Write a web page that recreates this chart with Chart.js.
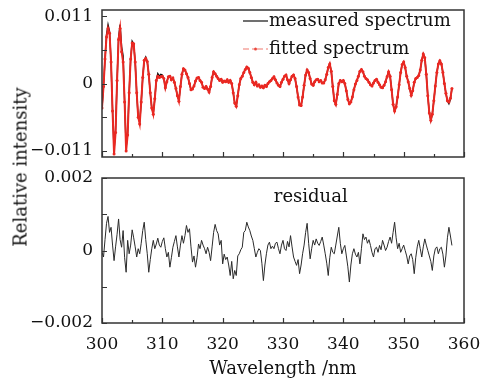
<!DOCTYPE html>
<html>
<head>
<meta charset="utf-8">
<title>Measured vs fitted spectrum</title>
<script src="https://cdn.jsdelivr.net/npm/chart.js@4.4.0/dist/chart.umd.min.js"></script>
<style>
    html, body { margin: 0; padding: 0; background: #fff; }
    #wrap { position: relative; width: 495px; height: 383px; font-family: 'DejaVu Serif', serif; }
    #wrap canvas { position: absolute; left: 0; top: 0; }
    #ytitle {
        position: absolute; left: 20px; top: 167px;
        transform: translate(-50%, -50%) rotate(-90deg);
        white-space: nowrap; font-size: 18px; color: #111;
    }
</style>
</head>
<body>
<div id="wrap">
    <canvas id="spectrumChart" width="495" height="383"></canvas>
    <canvas id="residualChart" width="495" height="383"></canvas>
    <div id="ytitle">Relative intensity</div>
</div>
<script>
// sampling grid: 300 nm to 358 nm, every 0.25 nm
const startNm = 300;
const stepNm = 0.25;

const measured = [
    -0.0040, -0.0005, 0.0040, 0.0080, 0.0096, 0.0085, 0.0035, -0.0045, -0.0108, -0.0075,
    0.0005, 0.0075, 0.0096, 0.0060, 0.0045, -0.0030, -0.0104, -0.0080, -0.0015, 0.0040,
    0.0069, 0.0065, 0.0035, -0.0015, -0.0055, -0.0063, -0.0030, 0.0010, 0.0038, 0.0043,
    0.0036, 0.0015, -0.0015, -0.0040, -0.0048, -0.0025, 0.0005, 0.0016, 0.0012, 0.0015,
    0.0014, 0.0008, -0.0007, 0.0003, 0.0011, 0.0012, 0.0006, 0.0009, 0.0002, -0.0008,
    -0.0020, -0.0027, -0.0005, 0.0015, 0.0024, 0.0022, 0.0016, 0.0010, 0.0000, -0.0010,
    -0.0009, -0.0004, 0.0004, 0.0009, 0.0010, 0.0005, 0.0002, -0.0006, -0.0008, -0.0005,
    -0.0009, -0.0014, -0.0005, 0.0010, 0.0019, 0.0016, 0.0012, 0.0008, 0.0005, 0.0007,
    0.0002, 0.0004, 0.0003, 0.0006, 0.0002, 0.0005, 0.0000, -0.0015, -0.0032, -0.0037,
    -0.0020, -0.0002, 0.0008, 0.0012, 0.0018, 0.0023, 0.0027, 0.0025, 0.0018, 0.0010,
    0.0002, -0.0002, 0.0002, -0.0004, -0.0002, -0.0006, -0.0004, -0.0007, -0.0003, -0.0005,
    0.0000, 0.0003, 0.0005, 0.0008, 0.0011, 0.0006, 0.0001, -0.0003, -0.0005, 0.0002,
    0.0007, 0.0012, 0.0014, 0.0006, 0.0000, 0.0006, 0.0012, 0.0014, 0.0008, -0.0005,
    -0.0022, -0.0035, -0.0036, -0.0022, -0.0003, 0.0014, 0.0022, 0.0018, 0.0008, -0.0001,
    -0.0003, 0.0003, 0.0006, 0.0007, 0.0003, 0.0005, 0.0001, 0.0001, 0.0006, 0.0015,
    0.0026, 0.0032, 0.0020, -0.0005, -0.0028, -0.0034, -0.0018, 0.0000, 0.0005, 0.0003,
    0.0005, 0.0000, -0.0012, -0.0026, -0.0033, -0.0030, -0.0022, -0.0010, -0.0001, 0.0005,
    0.0012, 0.0020, 0.0023, 0.0019, 0.0012, 0.0008, 0.0006, 0.0002, -0.0002, -0.0004,
    0.0001, 0.0005, 0.0007, 0.0002, -0.0002, -0.0006, -0.0007, -0.0003, 0.0003, 0.0011,
    0.0019, 0.0012, -0.0010, -0.0034, -0.0045, -0.0038, -0.0022, -0.0002, 0.0018, 0.0031,
    0.0035, 0.0026, 0.0012, 0.0003, -0.0008, -0.0019, -0.0012, 0.0002, 0.0008, 0.0010,
    0.0013, 0.0022, 0.0038, 0.0048, 0.0042, 0.0015, -0.0020, -0.0048, -0.0060, -0.0050,
    -0.0028, -0.0004, 0.0018, 0.0032, 0.0037, 0.0032, 0.0018, 0.0000, -0.0016, -0.0028,
    -0.0033, -0.0026, -0.0008
];

const fitted = [
    -0.0040, -0.0005, 0.0040, 0.0076, 0.0090, 0.0082, 0.0035, -0.0045, -0.0115, -0.0080,
    0.0005, 0.0072, 0.0090, 0.0052, 0.0035, -0.0030, -0.0110, -0.0084, -0.0015, 0.0040,
    0.0066, 0.0065, 0.0035, -0.0015, -0.0055, -0.0066, -0.0030, 0.0010, 0.0038, 0.0041,
    0.0036, 0.0015, -0.0015, -0.0040, -0.0050, -0.0025, 0.0005, 0.0012, 0.0010, 0.0011,
    0.0012, 0.0008, -0.0007, 0.0003, 0.0011, 0.0012, 0.0006, 0.0009, 0.0002, -0.0008,
    -0.0020, -0.0029, -0.0005, 0.0015, 0.0024, 0.0022, 0.0016, 0.0010, 0.0000, -0.0010,
    -0.0009, -0.0004, 0.0004, 0.0009, 0.0010, 0.0005, 0.0002, -0.0006, -0.0008, -0.0005,
    -0.0009, -0.0014, -0.0005, 0.0010, 0.0019, 0.0016, 0.0012, 0.0008, 0.0005, 0.0007,
    0.0002, 0.0004, 0.0003, 0.0006, 0.0002, 0.0005, 0.0000, -0.0015, -0.0032, -0.0037,
    -0.0020, -0.0002, 0.0008, 0.0012, 0.0018, 0.0023, 0.0027, 0.0025, 0.0018, 0.0010,
    0.0002, -0.0002, 0.0002, -0.0004, -0.0002, -0.0006, -0.0004, -0.0007, -0.0003, -0.0005,
    0.0000, 0.0003, 0.0005, 0.0008, 0.0011, 0.0006, 0.0001, -0.0003, -0.0005, 0.0002,
    0.0007, 0.0012, 0.0014, 0.0006, 0.0000, 0.0006, 0.0012, 0.0014, 0.0008, -0.0005,
    -0.0022, -0.0035, -0.0036, -0.0022, -0.0003, 0.0014, 0.0022, 0.0018, 0.0008, -0.0001,
    -0.0003, 0.0003, 0.0006, 0.0007, 0.0003, 0.0005, 0.0001, 0.0001, 0.0006, 0.0015,
    0.0026, 0.0032, 0.0020, -0.0005, -0.0028, -0.0034, -0.0018, 0.0000, 0.0005, 0.0003,
    0.0005, 0.0000, -0.0012, -0.0026, -0.0033, -0.0030, -0.0022, -0.0010, -0.0001, 0.0005,
    0.0012, 0.0020, 0.0023, 0.0019, 0.0012, 0.0008, 0.0006, 0.0002, -0.0002, -0.0004,
    0.0001, 0.0005, 0.0007, 0.0002, -0.0002, -0.0006, -0.0007, -0.0003, 0.0003, 0.0011,
    0.0019, 0.0012, -0.0010, -0.0034, -0.0045, -0.0038, -0.0022, -0.0002, 0.0018, 0.0031,
    0.0035, 0.0026, 0.0012, 0.0003, -0.0008, -0.0019, -0.0012, 0.0002, 0.0008, 0.0010,
    0.0013, 0.0022, 0.0038, 0.0048, 0.0042, 0.0015, -0.0020, -0.0048, -0.0060, -0.0050,
    -0.0028, -0.0004, 0.0018, 0.0032, 0.0037, 0.0032, 0.0018, 0.0000, -0.0016, -0.0028,
    -0.0030, -0.0024, -0.0008
];

const residual = [
    -0.00005, -0.00018, 0.00030, 0.00075, 0.00094, 0.00050, 0.00064, 0.00015, -0.00028, 0.00010,
    0.00045, 0.00087, 0.00030, 0.00009, 0.00055, -0.00020, -0.00060, 0.00028, -0.00009, 0.00015,
    0.00057, 0.00035, 0.00010, -0.00018, 0.00005, -0.00009, 0.00020, 0.00055, 0.00078, 0.00030,
    -0.00009, -0.00060, -0.00025, 0.00005, 0.00028, 0.00005, 0.00018, 0.00034, 0.00015, 0.00009,
    0.00025, 0.00035, 0.00005, -0.00018, -0.00005, -0.00046, -0.00020, 0.00009, 0.00025, 0.00041,
    0.00010, -0.00018, 0.00015, 0.00041, 0.00020, 0.00041, 0.00069, 0.00050, 0.00060, 0.00010,
    -0.00032, -0.00015, -0.00046, -0.00020, 0.00018, 0.00005, 0.00028, 0.00015, 0.00005, -0.00009,
    0.00009, -0.00005, -0.00028, 0.00010, 0.00050, 0.00072, 0.00055, 0.00046, 0.00015, 0.00028,
    -0.00037, -0.00010, -0.00025, -0.00018, -0.00040, -0.00069, -0.00030, -0.00078, -0.00055, -0.00069,
    -0.00015, -0.00009, 0.00002, 0.00009, 0.00050, 0.00055, 0.00078, 0.00065, 0.00055, 0.00040,
    0.00028, 0.00005, -0.00018, -0.00005, 0.00005, 0.00000, -0.00035, -0.00083, -0.00040, -0.00009,
    0.00015, 0.00023, 0.00005, 0.00012, 0.00005, 0.00020, 0.00023, 0.00005, -0.00009, 0.00015,
    0.00028, 0.00005, 0.00000, 0.00025, 0.00010, 0.00041, 0.00010, -0.00018, -0.00030, -0.00041,
    -0.00025, -0.00064, -0.00040, -0.00009, 0.00015, 0.00050, 0.00075, 0.00020, -0.00023, 0.00005,
    0.00028, 0.00015, 0.00032, 0.00020, 0.00014, 0.00025, 0.00037, 0.00015, -0.00009, -0.00035,
    -0.00069, -0.00020, 0.00009, -0.00005, -0.00009, 0.00015, 0.00040, 0.00064, 0.00020, -0.00009,
    0.00005, 0.00014, -0.00015, -0.00045, -0.00087, -0.00040, -0.00009, 0.00005, -0.00010, -0.00018,
    -0.00005, -0.00037, 0.00005, 0.00046, 0.00030, 0.00037, 0.00020, 0.00030, 0.00014, -0.00005,
    -0.00018, 0.00005, 0.00009, -0.00005, 0.00014, 0.00002, 0.00028, 0.00015, 0.00000, 0.00009,
    0.00025, 0.00037, 0.00020, 0.00050, 0.00078, 0.00035, 0.00005, 0.00020, -0.00005, 0.00005,
    0.00015, 0.00000, -0.00015, -0.00037, -0.00015, -0.00009, -0.00025, -0.00064, -0.00020, 0.00010,
    0.00028, 0.00005, -0.00018, 0.00010, 0.00032, 0.00015, 0.00000, -0.00015, -0.00030, -0.00055,
    -0.00015, 0.00005, 0.00010, -0.00009, 0.00005, 0.00009, -0.00010, -0.00046, -0.00015, 0.00035,
    0.00064, 0.00040, 0.00014
];

const xMajorTicks = [300, 310, 320, 330, 340, 350, 360];
const xMinorTicks = [305, 315, 325, 335, 345, 355];
const topTicks = [-0.011, -0.0055, 0, 0.0055, 0.011];
const topTickLabels = ['\u22120.011', '', '0', '', '0.011'];
const bottomTicks = [-0.002, -0.001, 0, 0.001, 0.002];
const bottomTickLabels = ['\u22120.002', '', '0', '', '0.002'];

const wavelength = measured.map((v, i) => startNm + i * stepNm);
const toPoints = (vals) => vals.map((v, i) => ({ x: wavelength[i], y: v }));

const FONT = "'DejaVu Serif', serif";
const INK = '#111';
const RED = 'rgb(234, 40, 34)';

// box around the plot area plus inward tick marks
const framePlugin = {
    id: 'frame',
    afterDatasetsDraw(chart, args, opts) {
        const ctx = chart.ctx;
        const a = chart.chartArea;
        const xs = chart.scales.x;
        const ys = chart.scales.y;
        ctx.save();
        ctx.strokeStyle = '#333';
        ctx.lineWidth = 1.5;
        ctx.strokeRect(a.left, a.top, a.right - a.left, a.bottom - a.top);
        ctx.lineWidth = 1.2;
        ctx.beginPath();
        for (const v of xMajorTicks) {
            const px = Math.round(xs.getPixelForValue(v)) + 0.5;
            ctx.moveTo(px, a.bottom);
            ctx.lineTo(px, a.bottom - 5);
        }
        for (const v of xMinorTicks) {
            const px = Math.round(xs.getPixelForValue(v)) + 0.5;
            ctx.moveTo(px, a.bottom);
            ctx.lineTo(px, a.bottom - 3);
        }
        for (const v of opts.yTicks) {
            const py = Math.round(ys.getPixelForValue(v)) + 0.5;
            ctx.moveTo(a.left, py);
            ctx.lineTo(a.left + 5, py);
        }
        ctx.stroke();
        ctx.restore();
    },
};

const legendPlugin = {
    id: 'spectrumLegend',
    afterDraw(chart) {
        const ctx = chart.ctx;
        const a = chart.chartArea;
        const x0 = a.right - 221;
        const x1 = a.right - 196;
        ctx.save();
        ctx.font = '18px ' + FONT;
        ctx.fillStyle = INK;
        ctx.textBaseline = 'middle';

        ctx.strokeStyle = INK;
        ctx.lineWidth = 1.2;
        ctx.beginPath();
        ctx.moveTo(x0, a.top + 11);
        ctx.lineTo(x1, a.top + 11);
        ctx.stroke();
        ctx.fillText('measured spectrum', x1 + 1, a.top + 11);

        ctx.strokeStyle = 'rgb(240, 120, 110)';
        ctx.setLineDash([6, 3, 2, 3]);
        ctx.beginPath();
        ctx.moveTo(x0, a.top + 39);
        ctx.lineTo(x1, a.top + 39);
        ctx.stroke();
        ctx.setLineDash([]);
        ctx.fillStyle = 'rgb(235, 70, 60)';
        ctx.beginPath();
        ctx.arc((x0 + x1) / 2, a.top + 39, 1.5, 0, Math.PI * 2);
        ctx.fill();
        ctx.fillStyle = INK;
        ctx.fillText('fitted spectrum', x1 + 1, a.top + 39);
        ctx.restore();
    },
};

const residualLabel = {
    id: 'residualLabel',
    afterDraw(chart) {
        const ctx = chart.ctx;
        const a = chart.chartArea;
        ctx.save();
        ctx.font = '18px ' + FONT;
        ctx.fillStyle = INK;
        ctx.textAlign = 'center';
        ctx.textBaseline = 'middle';
        ctx.fillText('residual', chart.scales.x.getPixelForValue(334.6), a.top + 19);
        ctx.restore();
    },
};

const yAxis = (min, max, ticks, labels) => ({
    type: 'linear',
    min: min,
    max: max,
    grid: { display: false, drawTicks: false },
    border: { display: false },
    afterBuildTicks: (s) => { s.ticks = ticks.map((v) => ({ value: v })); },
    afterFit: (s) => { s.width = 102; s.paddingTop = 0; s.paddingBottom = 0; },
    ticks: {
        padding: 9,
        autoSkip: false,
        color: INK,
        font: { family: FONT, size: 17 },
        callback: (value, index) => labels[index],
    },
});

const spectrumChart = new Chart(document.getElementById('spectrumChart'), {
    type: 'line',
    data: {
        datasets: [
            {
                label: 'fitted spectrum',
                data: toPoints(fitted),
                borderColor: RED,
                backgroundColor: RED,
                borderWidth: 2,
                pointRadius: 1.5,
                pointBorderWidth: 0,
                pointBackgroundColor: RED,
                tension: 0,
            },
            {
                label: 'measured spectrum',
                data: toPoints(measured),
                borderColor: INK,
                borderWidth: 1.4,
                pointRadius: 0,
                tension: 0,
            },
        ],
    },
    options: {
        responsive: false,
        animation: false,
        events: [],
        layout: { padding: { top: 10, right: 31, bottom: 0, left: 0 } },
        plugins: { legend: { display: false }, tooltip: { enabled: false }, frame: { yTicks: topTicks } },
        scales: {
            x: {
                type: 'linear',
                min: 300,
                max: 360,
                grid: { display: false },
                border: { display: false },
                ticks: { display: false },
                afterFit: (s) => { s.height = 226; s.paddingLeft = 0; s.paddingRight = 0; },
            },
            y: yAxis(-0.012, 0.012, topTicks, topTickLabels),
        },
    },
    plugins: [framePlugin, legendPlugin],
});

const residualChart = new Chart(document.getElementById('residualChart'), {
    type: 'line',
    data: {
        datasets: [
            {
                label: 'residual',
                data: toPoints(residual),
                borderColor: '#2a2a2a',
                borderWidth: 1,
                pointRadius: 0,
                tension: 0,
            },
        ],
    },
    options: {
        responsive: false,
        animation: false,
        events: [],
        layout: { padding: { top: 178, right: 31, bottom: 0, left: 0 } },
        plugins: { legend: { display: false }, tooltip: { enabled: false }, frame: { yTicks: bottomTicks } },
        scales: {
            x: {
                type: 'linear',
                min: 300,
                max: 360,
                grid: { display: false, drawTicks: false },
                border: { display: false },
                afterBuildTicks: (s) => { s.ticks = xMajorTicks.map((v) => ({ value: v })); },
                afterFit: (s) => { s.height = 60; s.paddingLeft = 0; s.paddingRight = 0; },
                ticks: {
                    padding: 11,
                    autoSkip: false,
                    maxRotation: 0,
                    color: INK,
                    font: { family: FONT, size: 17 },
                    callback: (value) => String(value),
                },
                title: {
                    display: true,
                    text: 'Wavelength /nm',
                    color: INK,
                    font: { family: FONT, size: 18 },
                    padding: { top: 0, bottom: 3 },
                },
            },
            y: yAxis(-0.002, 0.002, bottomTicks, bottomTickLabels),
        },
    },
    plugins: [framePlugin, residualLabel],
});
</script>
</body>
</html>
